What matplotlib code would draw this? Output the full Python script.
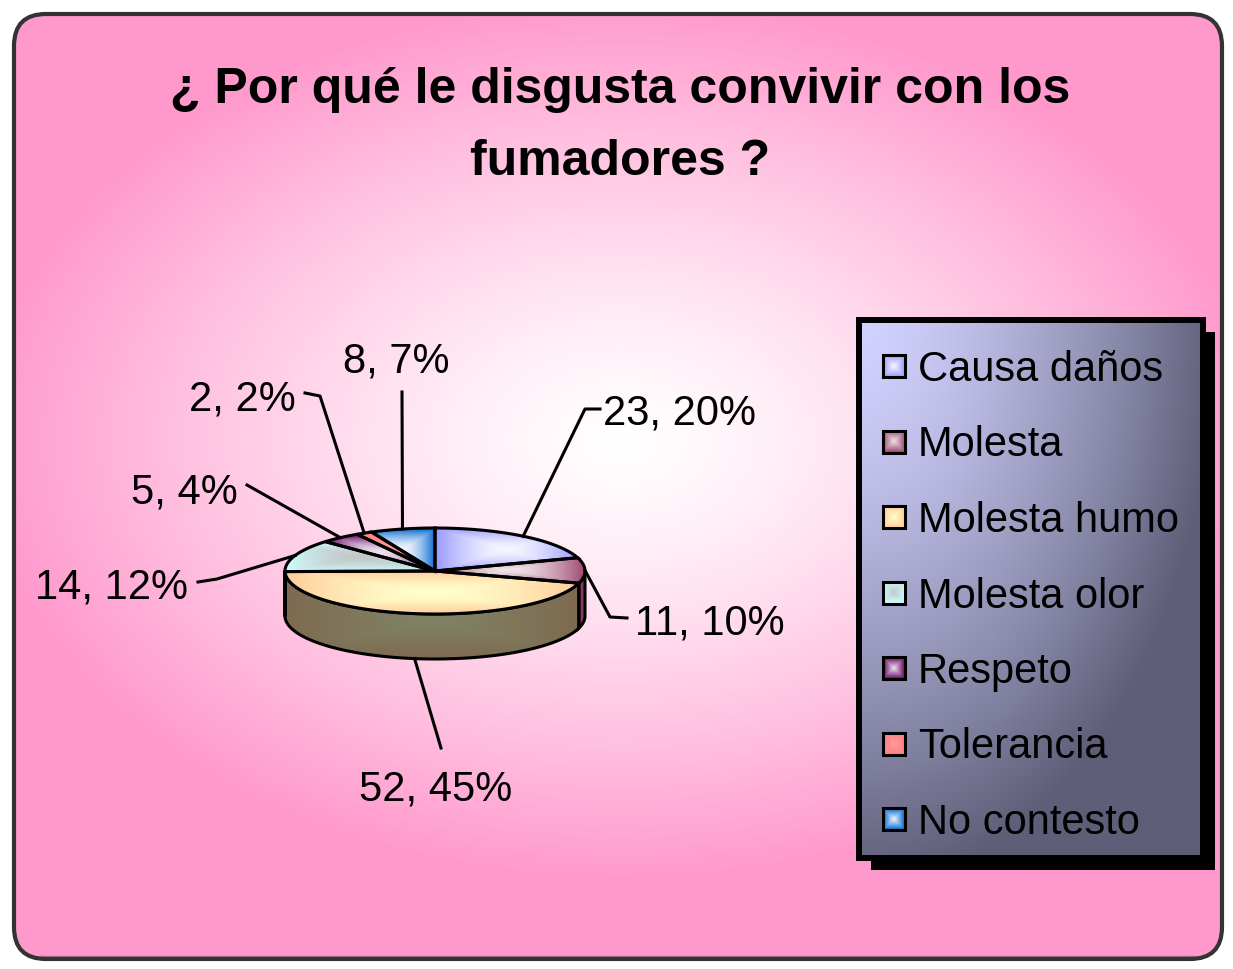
import numpy as np
import matplotlib
matplotlib.use("Agg")
import matplotlib.pyplot as plt
from matplotlib.patches import Polygon, Rectangle, FancyBboxPatch
from matplotlib.colors import to_rgb

# ---- data -------------------------------------------------------------
title_lines = ["¿ Por qué le disgusta convivir con los", "fumadores ?"]
categories = ["Causa daños", "Molesta", "Molesta humo", "Molesta olor",
              "Respeto", "Tolerancia", "No contesto"]
counts = [23, 11, 52, 14, 5, 2, 8]

# Excel style palette: rim colour, highlight colour, side colour
edge_colors = ["#9999FF", "#A04A72", "#FFCC99", "#CCFFFF", "#660066", "#FF8080", "#0066CC"]
mid_colors = ["#F6F6FF", "#EEE4E8", "#FFFFCC", "#C4C8C8", "#ECE4EC", "#FF9A9A", "#F0F4FF"]
side_colors = ["#6A6ACC", "#8A3A60", "#7E6A50", "#9ABABA", "#4A004A", "#CC6060", "#004C99"]

W, H = 1233, 969
BG_PINK = "#FF99CC"


def fill_gradient(ax, patch, bbox, c_edge, c_mid, power=1.5, zorder=2, kind="box"):
    """Fill a patch with an Excel-like 'from centre' gradient."""
    x0, y0, x1, y1 = bbox
    u = np.linspace(-1, 1, 120)
    uu, vv = np.meshgrid(u, u)
    if kind == "box":
        t = np.maximum(abs(uu), abs(vv))
    else:
        t = np.clip(np.sqrt(uu ** 2 + vv ** 2), 0, 1)
    t = t ** power
    e = np.array(to_rgb(c_edge))
    m = np.array(to_rgb(c_mid))
    img = m + (e - m) * t[..., None]
    patch.set_facecolor("none")
    patch.set_zorder(zorder + 0.01)
    ax.add_patch(patch)
    im = ax.imshow(img, extent=[x0, x1, y1, y0], origin="upper",
                   interpolation="bilinear", zorder=zorder, aspect="auto")
    im.set_clip_path(patch)
    return im


fig = plt.figure(figsize=(W / 100, H / 100), dpi=100)
ax = fig.add_axes([0, 0, 1, 1])
ax.set_axis_off()

# ---- background frame with radial gradient -------------------------------
frame = FancyBboxPatch((14, 14), 1208, 945, boxstyle="round,pad=0,rounding_size=32",
                       edgecolor="#333333", linewidth=3.0)
yy, xx = np.mgrid[0:H:4, 0:W:4]
r = np.sqrt(((xx - 620) / 640.0) ** 2 + ((yy - 440) / 440.0) ** 2)
t = np.clip(r, 0, 1) ** 1.3
pink = np.array(to_rgb(BG_PINK))
bg = np.ones(3) + (pink - np.ones(3)) * t[..., None]
frame.set_facecolor("none")
frame.set_zorder(1.01)
ax.add_patch(frame)
im = ax.imshow(bg, extent=[0, W, H, 0], origin="upper", interpolation="bilinear",
               zorder=1, aspect="auto")
im.set_clip_path(frame)
ax.plot([40, 1195], [957, 957], color="#A87090", lw=2.5, zorder=1.005,
        solid_capstyle="butt")

# ---- title ---------------------------------------------------------------
title_font = dict(family=["Liberation Sans", "DejaVu Sans"],
                  fontweight="bold", fontsize=36, ha="center", va="baseline", zorder=5)
ax.text(620, 103, title_lines[0], **title_font)
ax.text(620, 175, title_lines[1], **title_font)

# ---- 3D pie --------------------------------------------------------------
cx, cy, rx, ry, depth = 435, 571, 150, 43, 45
total = float(sum(counts))
fracs = np.array(counts) / total
cum = np.concatenate([[0], np.cumsum(fracs)])
theta1 = 90 - cum[:-1] * 360
theta2 = 90 - cum[1:] * 360


def ell(th, dy=0.0):
    a = np.radians(th)
    return cx + rx * np.cos(a), cy - ry * np.sin(a) + dy


# sides (only the front half, -180..0 degrees)
for i in range(len(counts)):
    a, b = max(theta2[i], -180), min(theta1[i], 0)
    if b <= a:
        continue
    th = np.linspace(b, a, 60)
    top = np.column_stack(ell(th))
    bot = np.column_stack(ell(th[::-1], depth))
    pts = np.vstack([top, bot])
    poly = Polygon(pts, closed=True, edgecolor="black", linewidth=2.2, joinstyle="miter")
    light = "#808264" if i == 2 else side_colors[i]
    bx = (pts[:, 0].min(), pts[:, 1].min(), pts[:, 0].max(), pts[:, 1].max())
    fill_gradient(ax, poly, bx, side_colors[i], light, power=1.3, zorder=3)

# top faces
for i in range(len(counts)):
    th = np.linspace(theta1[i], theta2[i], 80)
    arc = np.column_stack(ell(th))
    pts = np.vstack([[cx, cy], arc])
    poly = Polygon(pts, closed=True, edgecolor="black", linewidth=2.2, joinstyle="miter")
    bx = (pts[:, 0].min(), pts[:, 1].min(), pts[:, 0].max(), pts[:, 1].max())
    fill_gradient(ax, poly, bx, edge_colors[i], mid_colors[i], power=1.6, zorder=4)

# ---- data labels with leader lines -----------------------------------------
label_font = dict(family=["Liberation Sans", "DejaVu Sans"], fontsize=30,
                  va="baseline", zorder=6, color="black")
# text anchor (x, baseline y, ha) and elbow points of each leader line
label_layout = [
    ((603, 425, "left"), [(585, 409), (600, 409)]),
    ((635, 634, "left"), [(610, 617), (627, 618)]),
    ((436, 801, "center"), [(441, 748)]),
    ((188, 598, "right"), [(217, 579), (198, 582)]),
    ((238, 503, "right"), [(247, 485)]),
    ((296, 411, "right"), [(320, 396), (305, 393)]),
    ((396, 373, "center"), [(402, 392)]),
]
for i in range(len(counts)):
    mid = (theta1[i] + theta2[i]) / 2
    x0, y0 = ell(mid)
    if np.sin(np.radians(mid)) < -0.5:
        y0 += depth
    (tx, ty, ha), elbows = label_layout[i]
    xs = [x0] + [p[0] for p in elbows]
    ys = [y0] + [p[1] for p in elbows]
    ax.plot(xs, ys, color="black", lw=2.2, zorder=5.5)
    pct = int(round(fracs[i] * 100))
    ax.text(tx, ty, f"{counts[i]}, {pct}%", ha=ha, **label_font)

# ---- legend ----------------------------------------------------------------
lx0, ly0, lx1, ly1 = 859, 320, 1203, 858
ax.add_patch(Rectangle((lx0 + 12, ly0 + 12), lx1 - lx0, ly1 - ly0,
                       facecolor="black", edgecolor="none", zorder=6))
lg = Rectangle((lx0, ly0), lx1 - lx0, ly1 - ly0, edgecolor="black", linewidth=4.3)
gy, gx = np.mgrid[0:1:200j, 0:1:120j]
tl = np.clip(np.sqrt(gx ** 2 + gy ** 2) / 1.05, 0, 1) ** 1.4
c0, c1 = np.array(to_rgb("#D2D2FF")), np.array(to_rgb("#5E5E78"))
limg = c0 + (c1 - c0) * tl[..., None]
lg.set_facecolor("none")
lg.set_zorder(6.51)
ax.add_patch(lg)
lim = ax.imshow(limg, extent=[lx0, lx1, ly1, ly0], origin="upper",
                interpolation="bilinear", zorder=6.5, aspect="auto")
lim.set_clip_path(lg)

for i, name in enumerate(categories):
    yc = 366 + i * 75.5
    m = Rectangle((883, yc - 11), 22, 22, edgecolor="black", linewidth=2.2)
    fill_gradient(ax, m, (883, yc - 11, 905, yc + 11), edge_colors[i], mid_colors[i],
                  power=1.0, zorder=7)
    ax.text(918, yc + 15, name, ha="left", va="baseline", zorder=7.5,
            family=["Liberation Sans", "DejaVu Sans"], fontsize=30, color="black")

ax.set_xlim(0, W)
ax.set_ylim(H, 0)
fig.savefig("out.png", dpi=100)
